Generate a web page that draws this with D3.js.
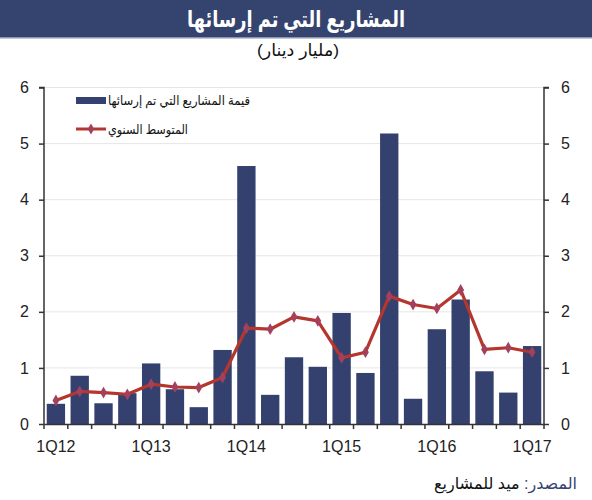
<!DOCTYPE html>
<html>
<head>
<meta charset="utf-8">
<script src="https://cdnjs.cloudflare.com/ajax/libs/d3/7.8.5/d3.min.js"></script>
<style>
  html, body { margin: 0; padding: 0; background: #fff; }
  svg { display: block; font-family: "Liberation Sans", Arial, "DejaVu Sans", sans-serif; }
</style>
</head>
<body>
<svg id="chart" width="592" height="500"></svg>
<script>
const quarters = ["1Q12","2Q12","3Q12","4Q12","1Q13","2Q13","3Q13","4Q13","1Q14","2Q14","3Q14","4Q14","1Q15","2Q15","3Q15","4Q15","1Q16","2Q16","3Q16","4Q16","1Q17"];
const awarded = [0.36,0.86,0.37,0.55,1.08,0.62,0.30,1.32,4.60,0.52,1.19,1.02,1.98,0.91,5.18,0.45,1.69,2.22,0.94,0.56,1.39];
const annualAvg = [0.42,0.58,0.56,0.53,0.71,0.66,0.65,0.83,1.71,1.69,1.91,1.84,1.18,1.28,2.28,2.13,2.06,2.39,1.33,1.36,1.28];
const xTickLabels = ["1Q12","1Q13","1Q14","1Q15","1Q16","1Q17"];
const yTicks = [0,1,2,3,4,5,6];
const titleText = "المشاريع التي تم إرسائها";
const subtitleText = "(مليار دينار)";
const legendBars = "قيمة المشاريع التي تم إرسائها";
const legendLine = "المتوسط السنوي";
const sourceLabel = "المصدر:";
const sourceText = " ميد للمشاريع";

const navy = "#34416f";
const red = "#b4362c";
const marker = "#a4405e";

const svg = d3.select("#chart");
const mL = 44, mR = 544, mT = 87.5, mB = 424;

// title band
svg.append("rect").attr("x",0).attr("y",0).attr("width",592).attr("height",38).attr("fill","#35436f");
svg.append("rect").attr("x",0).attr("y",37).attr("width",592).attr("height",1.5).attr("fill","#8a93b0");
svg.append("text").attr("x",296).attr("y",27).attr("text-anchor","middle").attr("direction","rtl")
  .attr("fill","#fff").attr("font-size",23).attr("font-weight","bold")
  .attr("textLength",218).attr("lengthAdjust","spacingAndGlyphs").text(titleText);
svg.append("text").attr("x",298).attr("y",56).attr("text-anchor","middle").attr("direction","rtl")
  .attr("fill","#111").attr("font-size",17).attr("textLength",82).attr("lengthAdjust","spacingAndGlyphs").text(subtitleText);

const x = d3.scaleBand().domain(quarters).range([mL, mR]).paddingInner(0.23).paddingOuter(0.115);
const xb = d3.scaleBand().domain(quarters).range([mL, mR]);
const y = d3.scaleLinear().domain([0,6]).range([mB, mT]);

// gridlines
svg.append("g").selectAll("line").data(yTicks.filter(d=>d>0)).join("line")
  .attr("x1",mL).attr("x2",mR).attr("y1",d=>y(d)).attr("y2",d=>y(d))
  .attr("stroke","#e6e6e6").attr("stroke-width",1);

// bars
svg.append("g").selectAll("rect").data(quarters).join("rect")
  .attr("x",d=>x(d)).attr("width",x.bandwidth())
  .attr("y",(d,i)=>y(awarded[i])).attr("height",(d,i)=>y(0)-y(awarded[i]))
  .attr("fill",navy);

// line
const pts = quarters.map((q,i)=>[xb(q)+xb.bandwidth()/2, y(annualAvg[i])]);
svg.append("path").attr("d",d3.line()(pts)).attr("fill","none").attr("stroke",red).attr("stroke-width",3.2).attr("stroke-linejoin","round");
svg.append("g").selectAll("path").data(pts).join("path")
  .attr("transform",d=>`translate(${d[0]},${d[1]})`)
  .attr("d",d3.symbol(d3.symbolDiamond,40)).attr("fill",marker);

// axes
const axisColor = "#333";
const yl = svg.append("g").attr("transform",`translate(${mL},0)`)
  .call(d3.axisLeft(y).tickValues(yTicks).tickSize(5).tickPadding(10).tickFormat(d3.format("d")));
const yr = svg.append("g").attr("transform",`translate(${mR},0)`)
  .call(d3.axisRight(y).tickValues(yTicks).tickSize(5).tickPadding(12).tickFormat(d3.format("d")));
const xa = svg.append("g").attr("transform",`translate(0,${mB})`)
  .call(d3.axisBottom(xb).tickValues([]).tickSizeOuter(0));
// boundary ticks for x axis
svg.append("g").selectAll("line").data(d3.range(quarters.length+1)).join("line")
  .attr("x1",i=>mL+i*xb.step()).attr("x2",i=>mL+i*xb.step())
  .attr("y1",mB).attr("y2",mB+5).attr("stroke",axisColor).attr("stroke-width",1.5);
svg.append("g").selectAll("text").data(xTickLabels).join("text")
  .attr("x",d=>xb(d)+xb.bandwidth()/2).attr("y",mB+28).attr("text-anchor","middle")
  .attr("font-size",16).attr("fill","#222").text(d=>d);

[yl,yr,xa].forEach(g=>{
  g.select(".domain").attr("stroke",axisColor).attr("stroke-width",1.5);
  g.selectAll(".tick line").attr("stroke",axisColor).attr("stroke-width",1.5);
  g.selectAll(".tick text").attr("font-size",16).attr("fill","#222").attr("font-family","Liberation Sans, Arial, sans-serif");
});
yl.select(".domain").attr("d",`M-5,${mT}H0V${mB}`);
yr.select(".domain").attr("d",`M5,${mT}H0V${mB}`);

// legend
svg.append("rect").attr("x",76).attr("y",97).attr("width",30).attr("height",7).attr("fill",navy);
svg.append("text").attr("x",179).attr("y",105).attr("text-anchor","middle").attr("direction","rtl")
  .attr("font-size",13).attr("fill","#111").attr("textLength",142).attr("lengthAdjust","spacingAndGlyphs").text(legendBars);
svg.append("line").attr("x1",76).attr("x2",106).attr("y1",129).attr("y2",129).attr("stroke",red).attr("stroke-width",3);
svg.append("path").attr("transform","translate(91,129)").attr("d",d3.symbol(d3.symbolDiamond,36)).attr("fill",marker);
svg.append("text").attr("x",148).attr("y",134).attr("text-anchor","middle").attr("direction","rtl")
  .attr("font-size",13).attr("fill","#111").attr("textLength",80).attr("lengthAdjust","spacingAndGlyphs").text(legendLine);

// source
const src = svg.append("text").attr("x",577).attr("y",489).attr("text-anchor","start").attr("direction","rtl")
  .attr("font-size",16);
src.append("tspan").attr("fill","#35436f").text(sourceLabel);
src.append("tspan").attr("fill","#111").text(sourceText);
</script>
</body>
</html>
